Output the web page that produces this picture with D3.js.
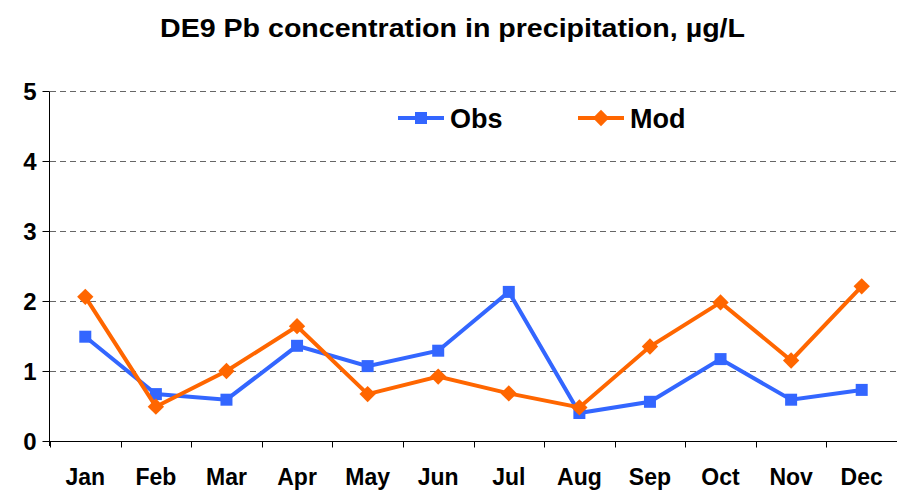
<!DOCTYPE html>
<html>
<head>
<meta charset="utf-8">
<script src="https://cdn.jsdelivr.net/npm/d3@7"></script>
<style>
body { margin: 0; background: #fff; }
text { font-family: "Liberation Sans", Arial, sans-serif; font-weight: bold; }
</style>
</head>
<body>
<script>
var w = 897;
var h = 492;
var months = ["Jan","Feb","Mar","Apr","May","Jun","Jul","Aug","Sep","Oct","Nov","Dec"];
var obs = [1.49,0.67,0.59,1.36,1.07,1.29,2.13,0.40,0.56,1.17,0.59,0.73];
var mod = [2.06,0.49,1.00,1.64,0.67,0.92,0.68,0.48,1.35,1.98,1.15,2.21];
var yTicks = [0,1,2,3,4,5];

var plotLeft = 50, plotRight = 897, plotTop = 91, plotBottom = 441;

var svg = d3.select("body").append("svg")
    .attr("width", w)
    .attr("height", h);

var xScale = d3.scaleBand()
    .domain(months)
    .range([plotLeft, plotRight]);
var yScale = d3.scaleLinear()
    .domain([0, 5])
    .range([plotBottom, plotTop]);

// gridlines
svg.selectAll(".grid")
    .data(yTicks.filter(function(d){ return d > 0; }))
    .enter()
    .append("line")
    .attr("x1", plotLeft)
    .attr("x2", plotRight)
    .attr("y1", function(d){ return yScale(d) + 0.5; })
    .attr("y2", function(d){ return yScale(d) + 0.5; })
    .style("stroke", "#666")
    .style("stroke-width", 1)
    .style("stroke-dasharray", "6,4");

// y axis
var yAxis = d3.axisLeft(yScale).tickValues(yTicks).tickSize(7).tickFormat(d3.format("d"));
var gy = svg.append("g").attr("transform", "translate(" + (plotLeft - 0.5) + ",0)").call(yAxis);
gy.select(".domain").attr("d", "M0," + (plotTop+0.5) + "V" + (plotBottom+5)).style("stroke", "#000");
gy.selectAll(".tick line").style("stroke", "#000");
gy.selectAll(".tick text").attr("x", -13).attr("dy", "0.36em").style("font-size", "24px").style("fill", "#000");

// x axis
var gx = svg.append("g").attr("transform", "translate(0," + (plotBottom + 0.5) + ")");
gx.append("line").attr("x1", plotLeft - 7).attr("x2", plotRight).attr("y1", 0).attr("y2", 0).style("stroke", "#000");
gx.selectAll(".xt")
    .data(months)
    .enter()
    .append("line")
    .attr("x1", function(d){ return Math.round(xScale(d)) + 0.5; })
    .attr("x2", function(d){ return Math.round(xScale(d)) + 0.5; })
    .attr("y1", 0)
    .attr("y2", 6)
    .style("stroke", "#000");
gx.selectAll(".xl")
    .data(months)
    .enter()
    .append("text")
    .attr("x", function(d){ return xScale(d) + xScale.bandwidth()/2; })
    .attr("y", 43.5)
    .attr("text-anchor", "middle")
    .style("font-size", "23px")
    .text(function(d){ return d; });

var line = d3.line()
    .x(function(d, i){ return xScale(months[i]) + xScale.bandwidth()/2; })
    .y(function(d){ return yScale(d); });

var obsColor = "#3366ff";
var modColor = "#ff6600";

svg.append("path").datum(obs).attr("d", line)
    .style("fill", "none").style("stroke", obsColor).style("stroke-width", 4);
svg.selectAll(".obsPt")
    .data(obs)
    .enter()
    .append("rect")
    .attr("x", function(d, i){ return xScale(months[i]) + xScale.bandwidth()/2 - 6; })
    .attr("y", function(d){ return yScale(d) - 6; })
    .attr("width", 12)
    .attr("height", 12)
    .style("fill", obsColor);

svg.append("path").datum(mod).attr("d", line)
    .style("fill", "none").style("stroke", modColor).style("stroke-width", 4);
var diamond = d3.symbol().type(d3.symbolDiamond2).size(170);
svg.selectAll(".modPt")
    .data(mod)
    .enter()
    .append("path")
    .attr("d", diamond)
    .attr("transform", function(d, i){ return "translate(" + (xScale(months[i]) + xScale.bandwidth()/2) + "," + yScale(d) + ")"; })
    .style("fill", modColor);

// legend
var legend = [
    {name: "Obs", color: obsColor, x: 398, shape: "square"},
    {name: "Mod", color: modColor, x: 578, shape: "diamond"}
];
var lg = svg.selectAll(".lg").data(legend).enter().append("g")
    .attr("transform", function(d){ return "translate(" + d.x + ",118)"; });
lg.append("line").attr("x1", 0).attr("x2", 46).attr("y1", 0).attr("y2", 0)
    .style("stroke", function(d){ return d.color; }).style("stroke-width", 4);
lg.filter(function(d){ return d.shape == "square"; }).append("rect")
    .attr("x", 17).attr("y", -6).attr("width", 12).attr("height", 12)
    .style("fill", function(d){ return d.color; });
lg.filter(function(d){ return d.shape == "diamond"; }).append("path")
    .attr("d", diamond).attr("transform", "translate(23,0)")
    .style("fill", function(d){ return d.color; });
lg.append("text").attr("x", 52).attr("y", 10)
    .style("font-size", "27px")
    .text(function(d){ return d.name; });

// title
svg.append("text")
    .attr("x", 160)
    .attr("y", 37)
    .attr("textLength", 585)
    .attr("lengthAdjust", "spacingAndGlyphs")
    .style("font-size", "25px")
    .text("DE9 Pb concentration in precipitation, \u00b5g/L");
</script>
</body>
</html>
